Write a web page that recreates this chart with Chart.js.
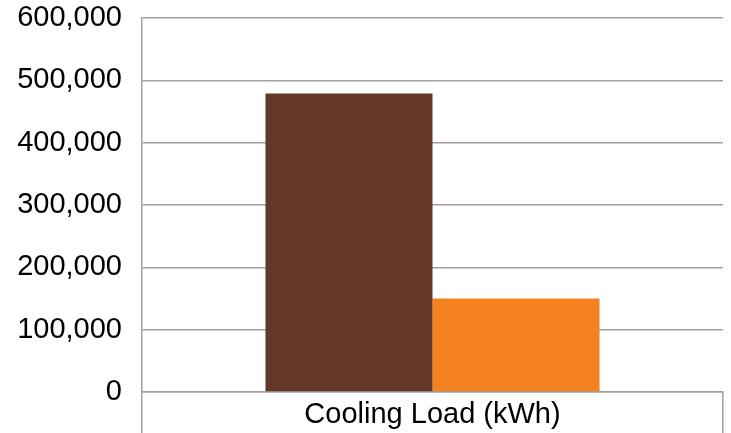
<!DOCTYPE html>
<html>
<head>
<meta charset="utf-8">
<script src="https://cdn.jsdelivr.net/npm/chart.js@4/dist/chart.umd.min.js"></script>
<style>
  html, body { margin: 0; padding: 0; background: #ffffff; }
  #wrap { width: 731px; height: 433px; position: relative; }
</style>
</head>
<body>
<div id="wrap"><canvas id="c"></canvas></div>
<script>
// Annual cooling load comparison
const categories = ['Cooling Load (kWh)'];
const seriesA = [479000];
const seriesB = [150000];
const seriesNames = ['Baseline', 'Improved'];
const yTicks = [0, 100000, 200000, 300000, 400000, 500000, 600000];

const gridGray = '#a0a0a0';
const font = { family: '"Liberation Sans", Arial, sans-serif', size: 29 };

new Chart(document.getElementById('c'), {
  type: 'bar',
  data: {
    labels: categories,
    datasets: [
      { label: seriesNames[0], data: seriesA, backgroundColor: '#633827', borderWidth: 0 },
      { label: seriesNames[1], data: seriesB, backgroundColor: '#f58220', borderWidth: 0 }
    ]
  },
  options: {
    responsive: true,
    maintainAspectRatio: false,
    animation: false,
    layout: { padding: { top: 18, right: 8, bottom: 0, left: 0 } },
    plugins: { legend: { display: false }, tooltip: { enabled: false } },
    datasets: { bar: { categoryPercentage: 0.575, barPercentage: 1.0 } },
    scales: {
      x: {
        offset: true,
        grid: {
          offset: true,
          drawOnChartArea: false,
          drawTicks: true,
          tickLength: 41,
          color: gridGray,
          lineWidth: 1.5
        },
        border: { display: true, color: gridGray, width: 1.5 },
        ticks: { color: '#000000', font: font, padding: -35 },
        afterFit: (s) => { s.height = 41; s.paddingLeft = 0; s.paddingRight = 0; }
      },
      y: {
        min: yTicks[0],
        max: yTicks[yTicks.length - 1],
        afterBuildTicks: (s) => { s.ticks = yTicks.map(v => ({ value: v })); },
        grid: { color: gridGray, drawTicks: false, lineWidth: 1.5 },
        border: { display: true, color: gridGray, width: 1.5 },
        ticks: {
          color: '#000000',
          font: font,
          padding: 20,
          callback: (v) => v.toLocaleString('en-US')
        },
        afterFit: (s) => { s.width = 142; s.paddingTop = 0; s.paddingBottom = 0; }
      }
    }
  }
});
</script>
</body>
</html>
